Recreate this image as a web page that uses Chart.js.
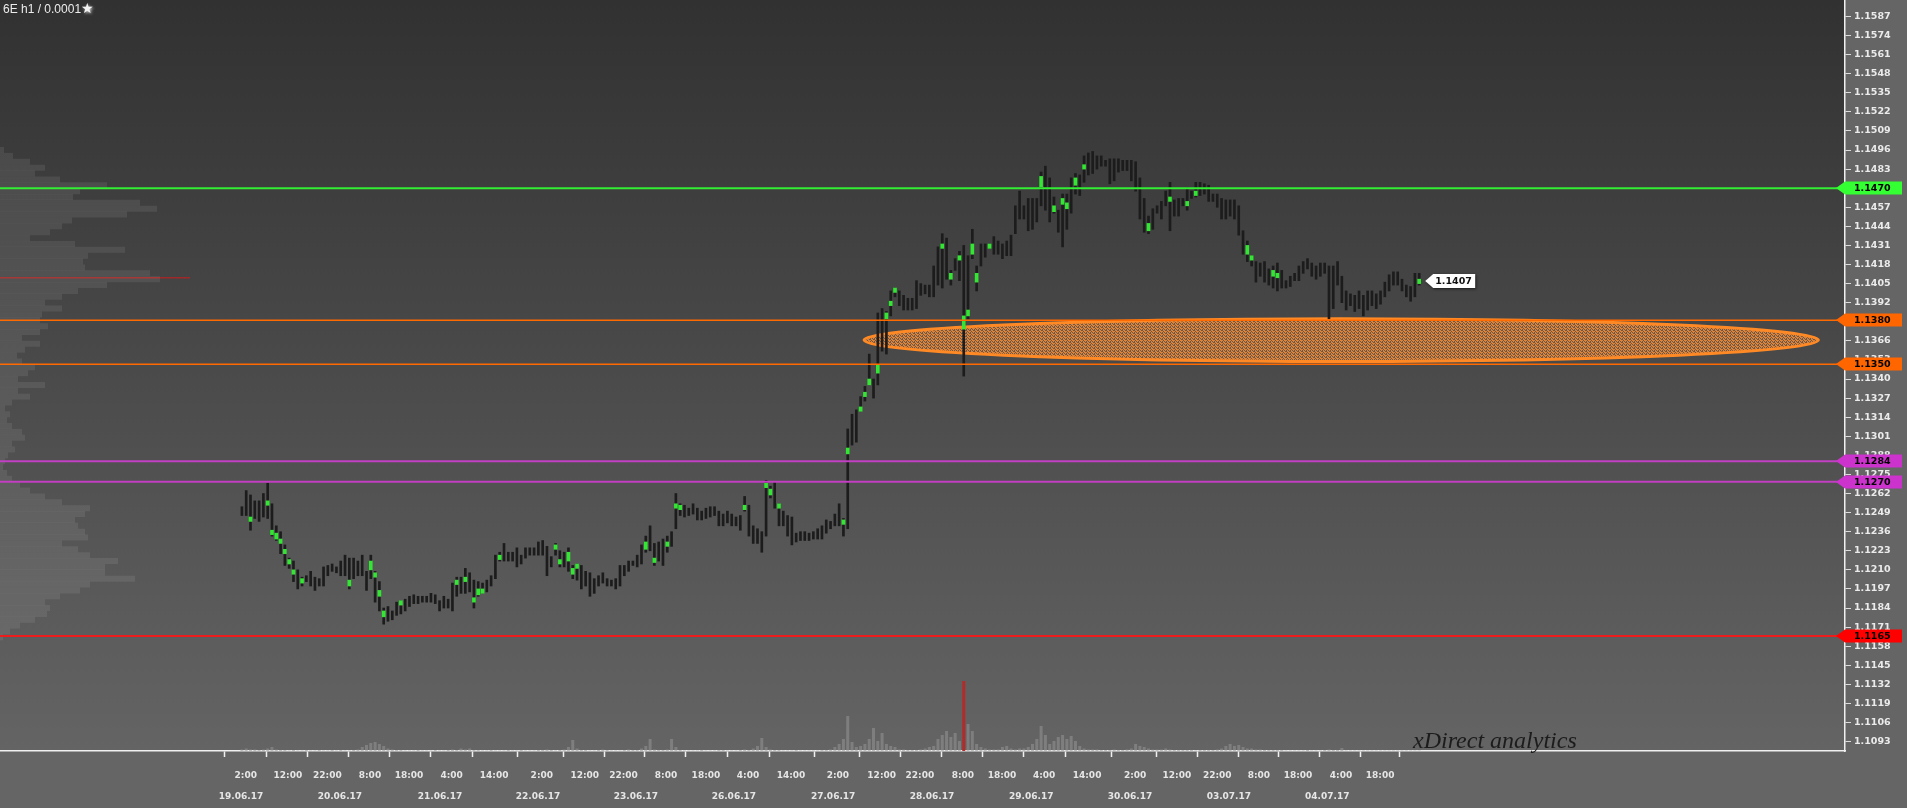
<!DOCTYPE html>
<html>
<head>
<meta charset="utf-8">
<title>6E h1</title>
<script src="https://cdn.jsdelivr.net/npm/chart.js@4.4.0/dist/chart.umd.min.js"></script>
<style>
  html, body { margin: 0; padding: 0; background: #656565; overflow: hidden; }
  #wrap { position: relative; width: 1907px; height: 808px; }
  #wrap canvas { position: absolute; left: 0; top: 0; }
</style>
</head>
<body>
<div id="wrap">
  <canvas id="profileChart" width="1907" height="808"></canvas>
  <canvas id="priceChart" width="1907" height="808"></canvas>
</div>
<script>
'use strict';

// hourly bars, 19.06.17 2:00 -> 04.07.17 (one entry per bar)
let barHigh = [
  1.1253, 1.1264, 1.1261, 1.1257, 1.1257, 1.1262, 1.1269, 1.1255, 1.1240, 1.1236,
  1.1227, 1.1218, 1.1216, 1.1210, 1.1205, 1.1206, 1.1209, 1.1205, 1.1204, 1.1212,
  1.1213, 1.1214, 1.1212, 1.1216, 1.1220, 1.1218, 1.1218, 1.1216, 1.1220, 1.1209,
  1.1220, 1.1209, 1.1202, 1.1184, 1.1185, 1.1182, 1.1188, 1.1189, 1.1190, 1.1192,
  1.1193, 1.1192, 1.1192, 1.1192, 1.1194, 1.1193, 1.1189, 1.1192, 1.1190, 1.1201,
  1.1205, 1.1205, 1.1211, 1.1208, 1.1203, 1.1202, 1.1201, 1.1203, 1.1206, 1.1220,
  1.1222, 1.1228, 1.1222, 1.1222, 1.1225, 1.1220, 1.1225, 1.1225, 1.1225, 1.1229,
  1.1230, 1.1226, 1.1219, 1.1228, 1.1223, 1.1222, 1.1225, 1.1213, 1.1214, 1.1213,
  1.1209, 1.1208, 1.1204, 1.1206, 1.1208, 1.1204, 1.1203, 1.1204, 1.1213, 1.1213,
  1.1216, 1.1216, 1.1220, 1.1227, 1.1233, 1.1240, 1.1228, 1.1229, 1.1231, 1.1233,
  1.1236, 1.1262, 1.1255, 1.1254, 1.1252, 1.1255, 1.1252, 1.1250, 1.1252, 1.1253,
  1.1253, 1.1250, 1.1248, 1.1250, 1.1248, 1.1246, 1.1247, 1.1260, 1.1254, 1.1240,
  1.1238, 1.1236, 1.1271, 1.1267, 1.1270, 1.1255, 1.1250, 1.1247, 1.1246, 1.1235,
  1.1236, 1.1236, 1.1235, 1.1236, 1.1238, 1.1240, 1.1244, 1.1243, 1.1248, 1.1255,
  1.1245, 1.1306, 1.1316, 1.1319, 1.1328, 1.1335, 1.1357, 1.1340, 1.1385, 1.1388,
  1.1386, 1.1400, 1.1402, 1.1400, 1.1397, 1.1395, 1.1395, 1.1407, 1.1405, 1.1404,
  1.1404, 1.1417, 1.1430, 1.1439, 1.1436, 1.1414, 1.1422, 1.1427, 1.1431, 1.1424,
  1.1442, 1.1417, 1.1432, 1.1432, 1.1432, 1.1437, 1.1434, 1.1432, 1.1434, 1.1438,
  1.1458, 1.1468, 1.1458, 1.1463, 1.1463, 1.1463, 1.1481, 1.1485, 1.1477, 1.1464,
  1.1455, 1.1466, 1.1466, 1.1477, 1.1480, 1.1479, 1.1492, 1.1494, 1.1495, 1.1492,
  1.1492, 1.1489, 1.1490, 1.1490, 1.1490, 1.1489, 1.1489, 1.1489, 1.1488, 1.1477,
  1.1463, 1.1451, 1.1456, 1.1458, 1.1461, 1.1468, 1.1474, 1.1462, 1.1463, 1.1463,
  1.1470, 1.1468, 1.1474, 1.1474, 1.1473, 1.1472, 1.1466, 1.1466, 1.1463, 1.1462,
  1.1462, 1.1462, 1.1458, 1.1441, 1.1434, 1.1424, 1.1420, 1.1419, 1.1420, 1.1415,
  1.1417, 1.1419, 1.1414, 1.1407, 1.1410, 1.1412, 1.1417, 1.1420, 1.1422, 1.1419,
  1.1417, 1.1419, 1.1419, 1.1417, 1.1417, 1.1420, 1.1410, 1.1400, 1.1398, 1.1397,
  1.1400, 1.1397, 1.1400, 1.1400, 1.1398, 1.1400, 1.1406, 1.1411, 1.1413, 1.1413,
  1.1408, 1.1404, 1.1403, 1.1412, 1.1412
];
let barLow = [
  1.1247, 1.1247, 1.1237, 1.1245, 1.1243, 1.1246, 1.1245, 1.1233, 1.1230, 1.1221,
  1.1213, 1.1211, 1.1202, 1.1197, 1.1199, 1.1202, 1.1199, 1.1196, 1.1199, 1.1199,
  1.1206, 1.1209, 1.1208, 1.1206, 1.1206, 1.1197, 1.1204, 1.1206, 1.1206, 1.1196,
  1.1204, 1.1188, 1.1182, 1.1173, 1.1175, 1.1176, 1.1179, 1.1180, 1.1182, 1.1185,
  1.1187, 1.1187, 1.1188, 1.1188, 1.1188, 1.1187, 1.1182, 1.1184, 1.1184, 1.1182,
  1.1192, 1.1194, 1.1194, 1.1195, 1.1184, 1.1192, 1.1194, 1.1195, 1.1199, 1.1204,
  1.1216, 1.1216, 1.1216, 1.1216, 1.1212, 1.1214, 1.1218, 1.1220, 1.1220, 1.1220,
  1.1220, 1.1206, 1.1212, 1.1220, 1.1212, 1.1212, 1.1209, 1.1204, 1.1203, 1.1197,
  1.1199, 1.1192, 1.1194, 1.1199, 1.1201, 1.1199, 1.1199, 1.1197, 1.1199, 1.1206,
  1.1209, 1.1213, 1.1212, 1.1214, 1.1222, 1.1223, 1.1213, 1.1216, 1.1213, 1.1222,
  1.1226, 1.1238, 1.1247, 1.1246, 1.1247, 1.1248, 1.1244, 1.1244, 1.1245, 1.1246,
  1.1247, 1.1240, 1.1240, 1.1242, 1.1240, 1.1240, 1.1237, 1.1250, 1.1233, 1.1228,
  1.1228, 1.1222, 1.1233, 1.1259, 1.1252, 1.1240, 1.1240, 1.1233, 1.1227, 1.1229,
  1.1230, 1.1230, 1.1230, 1.1231, 1.1231, 1.1231, 1.1235, 1.1238, 1.1240, 1.1240,
  1.1233, 1.1238, 1.1295, 1.1297, 1.1318, 1.1325, 1.1336, 1.1327, 1.1336, 1.1359,
  1.1357, 1.1383, 1.1396, 1.1390, 1.1387, 1.1387, 1.1387, 1.1388, 1.1397, 1.1398,
  1.1396, 1.1396, 1.1404, 1.1402, 1.1408, 1.1404, 1.1414, 1.1407, 1.1342, 1.1381,
  1.1422, 1.1400, 1.1417, 1.1423, 1.1429, 1.1425, 1.1425, 1.1422, 1.1424, 1.1424,
  1.1439, 1.1449, 1.1449, 1.1441, 1.1442, 1.1447, 1.1458, 1.1455, 1.1447, 1.1453,
  1.1440, 1.1430, 1.1442, 1.1453, 1.1466, 1.1465, 1.1474, 1.1479, 1.1480, 1.1483,
  1.1485, 1.1485, 1.1473, 1.1475, 1.1481, 1.1482, 1.1482, 1.1475, 1.1468, 1.1449,
  1.1440, 1.1439, 1.1442, 1.1453, 1.1449, 1.1458, 1.1441, 1.1451, 1.1451, 1.1458,
  1.1455, 1.1463, 1.1464, 1.1465, 1.1466, 1.1461, 1.1461, 1.1457, 1.1449, 1.1449,
  1.1451, 1.1449, 1.1438, 1.1425, 1.1420, 1.1417, 1.1406, 1.1410, 1.1406, 1.1404,
  1.1402, 1.1400, 1.1402, 1.1402, 1.1403, 1.1407, 1.1407, 1.1412, 1.1415, 1.1410,
  1.1408, 1.1410, 1.1412, 1.1381, 1.1388, 1.1404, 1.1392, 1.1387, 1.1390, 1.1386,
  1.1388, 1.1383, 1.1387, 1.1390, 1.1388, 1.1391, 1.1396, 1.1400, 1.1404, 1.1404,
  1.1400, 1.1396, 1.1393, 1.1396, 1.1404
];

// green volume clusters inside some bars
let clusterBar = [2, 6, 7, 8, 9, 10, 11, 12, 14, 25, 30, 31, 32, 33, 37, 50, 52, 54, 55, 56,
  60, 73, 74, 76, 77, 78, 94, 96, 99, 101, 102, 117, 122, 123, 125, 140, 141, 144, 145, 146,
  148, 150, 151, 152, 163, 165, 167, 168, 169, 170, 171, 174, 186, 189, 191, 192, 194, 196, 211, 216,
  220, 222, 234, 235, 240, 241, 274];
let clusterLow = [1.1243, 1.1254, 1.1234, 1.1231, 1.1228, 1.1221, 1.1214, 1.1207, 1.1201, 1.1199,
  1.1210, 1.1205, 1.1192, 1.1178, 1.1186, 1.1200, 1.1202, 1.1188, 1.1193, 1.1194,
  1.1217, 1.1224, 1.1214, 1.1216, 1.1207, 1.1211, 1.1224, 1.1215, 1.1226, 1.1252,
  1.1251, 1.1251, 1.1266, 1.1261, 1.1252, 1.1241, 1.1289, 1.1318, 1.1328, 1.1336,
  1.1344, 1.1381, 1.1390, 1.1399, 1.1429, 1.1408, 1.1421, 1.1374, 1.1383, 1.1425,
  1.1406, 1.1429, 1.1471, 1.1454, 1.1459, 1.1456, 1.1472, 1.1483, 1.1441, 1.1461,
  1.1458, 1.1465, 1.1425, 1.1421, 1.1410, 1.1409, 1.1405];
let clusterHigh = [1.1246, 1.1257, 1.1237, 1.1235, 1.1231, 1.1224, 1.1217, 1.1210, 1.1204, 1.1203,
  1.1216, 1.1208, 1.1196, 1.1182, 1.1189, 1.1203, 1.1205, 1.1191, 1.1197, 1.1197,
  1.1220, 1.1227, 1.1217, 1.1222, 1.1211, 1.1214, 1.1229, 1.1218, 1.1229, 1.1255,
  1.1254, 1.1254, 1.1269, 1.1265, 1.1255, 1.1244, 1.1293, 1.1321, 1.1331, 1.1340,
  1.1350, 1.1385, 1.1393, 1.1402, 1.1432, 1.1412, 1.1424, 1.1383, 1.1387, 1.1432,
  1.1412, 1.1432, 1.1478, 1.1458, 1.1463, 1.1460, 1.1477, 1.1486, 1.1446, 1.1464,
  1.1461, 1.1468, 1.1431, 1.1424, 1.1414, 1.1412, 1.1408];

// hourly volume, contracts
let barVolume = [
  150, 250, 150, 150, 100, 150, 250, 400, 150, 100,
  100, 50, 100, 50, 50, 100, 50, 50, 100, 50,
  50, 100, 50, 100, 50, 50, 100, 150, 400, 600,
  800, 900, 700, 500, 250, 150, 100, 100, 50, 50,
  50, 100, 50, 50, 50, 100, 50, 50, 100, 150,
  100, 250, 150, 250, 100, 100, 50, 50, 100, 50,
  50, 50, 100, 50, 50, 100, 50, 50, 50, 100,
  100, 150, 100, 50, 100, 150, 400, 1100, 250, 100,
  100, 50, 50, 100, 150, 100, 50, 50, 50, 100,
  150, 100, 100, 250, 500, 1200, 150, 100, 100, 150,
  1200, 400, 100, 50, 50, 50, 50, 100, 50, 50,
  50, 100, 100, 50, 50, 50, 100, 150, 100, 250,
  500, 1300, 400, 150, 100, 100, 50, 50, 50, 100,
  50, 50, 50, 50, 50, 100, 100, 150, 400, 700,
  1200, 3500, 900, 400, 500, 700, 1200, 2300, 1000, 1800,
  700, 500, 400, 150, 150, 100, 100, 100, 150, 250,
  400, 500, 1200, 1600, 2000, 1400, 1800, 1000, 7000, 2700,
  2000, 700, 400, 250, 150, 150, 150, 400, 500, 250,
  150, 250, 250, 400, 700, 1200, 2500, 1600, 700, 1000,
  1400, 1600, 1200, 1500, 1000, 500, 250, 150, 150, 150,
  100, 100, 100, 150, 100, 100, 150, 250, 700, 500,
  400, 250, 150, 150, 150, 250, 150, 100, 100, 100,
  100, 100, 50, 100, 100, 100, 100, 150, 250, 500,
  700, 500, 600, 400, 250, 250, 150, 150, 100, 100,
  100, 100, 100, 50, 50, 50, 50, 50, 100, 50,
  50, 50, 100, 150, 100, 100, 300, 50, 50, 50,
  50, 50, 50, 50, 50, 50, 50, 50, 50, 50,
  50, 50, 50, 50, 50
];
let volumeMax = 75100;

// volume profile on the left (price rows, 0.0004 apart)
let profilePrice = [
  1.1496, 1.1492, 1.1488, 1.1484, 1.1480, 1.1476, 1.1472, 1.1468, 1.1464, 1.1460,
  1.1456, 1.1452, 1.1448, 1.1444, 1.1440, 1.1436, 1.1432, 1.1428, 1.1424, 1.1420,
  1.1416, 1.1412, 1.1408, 1.1404, 1.1400, 1.1396, 1.1392, 1.1388, 1.1384, 1.1380,
  1.1376, 1.1372, 1.1368, 1.1364, 1.1360, 1.1356, 1.1352, 1.1348, 1.1344, 1.1340,
  1.1336, 1.1332, 1.1328, 1.1324, 1.1320, 1.1316, 1.1312, 1.1308, 1.1304, 1.1300,
  1.1296, 1.1292, 1.1288, 1.1284, 1.1280, 1.1276, 1.1272, 1.1268, 1.1264, 1.1260,
  1.1256, 1.1252, 1.1248, 1.1244, 1.1240, 1.1236, 1.1232, 1.1228, 1.1224, 1.1220,
  1.1216, 1.1212, 1.1208, 1.1204, 1.1200, 1.1196, 1.1192, 1.1188, 1.1184, 1.1180,
  1.1176, 1.1172, 1.1168, 1.1164
];
let profileVolume = [
  4, 13, 30, 45, 35, 60, 107, 80, 73, 140,
  157, 127, 72, 62, 50, 30, 75, 125, 88, 83,
  85, 150, 160, 107, 78, 62, 45, 62, 42, 40,
  48, 40, 22, 40, 25, 17, 22, 35, 28, 18,
  45, 18, 30, 12, 5, 10, 7, 12, 22, 25,
  12, 15, 8, 5, 3, 7, 12, 20, 30, 45,
  62, 90, 85, 75, 78, 85, 88, 62, 78, 90,
  118, 105, 105, 135, 90, 80, 60, 45, 50, 47,
  35, 20, 10, 3
];
let profileScaleMax = 1845;
let pocPrice = 1.1409;
let pocVolume = 190;

// price axis
let yMin = 1.10866;
let yMax = 1.15982;
let yTickValues = [
  1.1587, 1.1574, 1.1561, 1.1548, 1.1535, 1.1522, 1.1509, 1.1496, 1.1483, 1.1470,
  1.1457, 1.1444, 1.1431, 1.1418, 1.1405, 1.1392, 1.1379, 1.1366, 1.1353, 1.1340,
  1.1327, 1.1314, 1.1301, 1.1288, 1.1275, 1.1262, 1.1249, 1.1236, 1.1223, 1.1210,
  1.1197, 1.1184, 1.1171, 1.1158, 1.1145, 1.1132, 1.1119, 1.1106, 1.1093
];

// bar axis (bar number)
let xMin = -56.3;
let xMax = 373.1;
let timeTickPos = [0.9, 10.7, 19.9, 29.8, 38.9, 48.8, 58.7, 69.8, 79.8, 88.8,
  98.7, 108, 117.8, 127.8, 138.7, 148.9, 157.8, 167.8, 176.9, 186.7,
  196.7, 207.9, 217.6, 227, 236.7, 245.8, 255.8, 264.9];
let timeTickLabels = ['2:00', '12:00', '22:00', '8:00', '18:00', '4:00', '14:00', '2:00', '12:00', '22:00',
  '8:00', '18:00', '4:00', '14:00', '2:00', '12:00', '22:00', '8:00', '18:00', '4:00',
  '14:00', '2:00', '12:00', '22:00', '8:00', '18:00', '4:00', '18:00'];
let dateTickPos = [-0.2, 22.8, 46.1, 68.9, 91.7, 114.5, 137.6, 160.6, 183.7, 206.7, 229.7, 252.6];
let dateTickLabels = ['19.06.17', '20.06.17', '21.06.17', '22.06.17', '23.06.17', '26.06.17',
  '27.06.17', '28.06.17', '29.06.17', '30.06.17', '03.07.17', '04.07.17'];

// horizontal levels
let levelPrice = [1.1470, 1.1380, 1.1350, 1.1284, 1.1270, 1.1165];
let levelColor = ['#33ee33', '#ff6a00', '#ff6a00', '#c23ec2', '#c23ec2', '#ee1c1c'];
let levelTagColor = ['#33ff33', '#ff6600', '#ff6600', '#cc33cc', '#cc33cc', '#ff0000'];

// orange zone (ellipse)
let zoneFrom = 144.8;
let zoneTo = 366.9;
let zoneHigh = 1.1381;
let zoneLow = 1.1352;

let lastPrice = 1.1407;

Chart.defaults.font.family = 'DejaVu Sans';

let labelFont = { family: 'DejaVu Sans', size: 9.5, weight: 'bold' };
let smallFont = { family: 'DejaVu Sans', size: 9, weight: 'bold' };

let backgroundPlugin = {
  id: 'background',
  beforeDraw(chart) {
    let ctx = chart.ctx;
    let area = chart.chartArea;
    ctx.save();
    ctx.fillStyle = '#656565';
    ctx.fillRect(0, 0, chart.width, chart.height);
    let g = ctx.createLinearGradient(0, area.top, 0, area.bottom);
    g.addColorStop(0, '#313131');
    g.addColorStop(1, '#646464');
    ctx.fillStyle = g;
    ctx.fillRect(area.left, area.top, area.right - area.left, area.bottom - area.top);
    ctx.restore();
  }
};

function makeZonePattern(ctx) {
  let c = document.createElement('canvas');
  c.width = 4;
  c.height = 3;
  let p = c.getContext('2d');
  p.fillStyle = '#ee8733';
  p.fillRect(0, 0, 4, 3);
  p.fillStyle = '#6a5c52';
  p.fillRect(1, 0, 1, 1);
  p.fillRect(3, 1, 1, 1);
  p.fillRect(0, 2, 1, 1);
  p.fillRect(2, 2, 1, 1);
  p.fillRect(2, 0, 1, 1);
  return ctx.createPattern(c, 'repeat');
}

let decorPlugin = {
  id: 'decor',
  beforeDatasetsDraw(chart) {
    let ctx = chart.ctx;
    let x = chart.scales.x;
    let y = chart.scales.y;
    let x1 = x.getPixelForValue(zoneFrom);
    let x2 = x.getPixelForValue(zoneTo);
    let y1 = y.getPixelForValue(zoneHigh);
    let y2 = y.getPixelForValue(zoneLow);
    ctx.save();
    ctx.beginPath();
    ctx.ellipse((x1 + x2) / 2, (y1 + y2) / 2, (x2 - x1) / 2, (y2 - y1) / 2, 0, 0, Math.PI * 2);
    ctx.globalAlpha = 0.92;
    ctx.fillStyle = makeZonePattern(ctx);
    ctx.fill();
    ctx.globalAlpha = 1;
    ctx.lineWidth = 3;
    ctx.strokeStyle = '#ff8a25';
    ctx.stroke();
    ctx.restore();
  },
  afterDraw(chart) {
    let ctx = chart.ctx;
    let area = chart.chartArea;
    let x = chart.scales.x;
    let y = chart.scales.y;
    ctx.save();

    // level tags on the price axis
    ctx.font = 'bold 9.5px "DejaVu Sans"';
    ctx.textBaseline = 'middle';
    for (let i = 0; i < levelPrice.length; i++) {
      let py = Math.round(y.getPixelForValue(levelPrice[i]));
      ctx.fillStyle = levelTagColor[i];
      ctx.beginPath();
      ctx.moveTo(area.right - 9, py);
      ctx.lineTo(area.right, py - 6.5);
      ctx.lineTo(area.right + 57, py - 6.5);
      ctx.lineTo(area.right + 57, py + 6.5);
      ctx.lineTo(area.right, py + 6.5);
      ctx.closePath();
      ctx.fill();
      ctx.fillStyle = '#000';
      ctx.textAlign = 'left';
      ctx.fillText(levelPrice[i].toFixed(4), area.right + 9, py + 0.5);
    }

    // last price tag
    let lx = x.getPixelForValue(barHigh.length - 1) + 6;
    let ly = Math.round(y.getPixelForValue(lastPrice));
    ctx.shadowColor = 'rgba(0,0,0,0.6)';
    ctx.shadowBlur = 3;
    ctx.shadowOffsetX = 1;
    ctx.shadowOffsetY = 1;
    ctx.fillStyle = '#ffffff';
    ctx.beginPath();
    ctx.moveTo(lx, ly);
    ctx.lineTo(lx + 8, ly - 7);
    ctx.lineTo(lx + 50, ly - 7);
    ctx.lineTo(lx + 50, ly + 7);
    ctx.lineTo(lx + 8, ly + 7);
    ctx.closePath();
    ctx.fill();
    ctx.shadowColor = 'transparent';
    ctx.fillStyle = '#111';
    ctx.fillText(lastPrice.toFixed(4), lx + 10, ly + 0.5);

    // title
    ctx.font = '12px "Liberation Sans"';
    ctx.fillStyle = '#ececec';
    ctx.fillText('6E h1 / 0.0001', area.left + 3, 10);
    let tw = ctx.measureText('6E h1 / 0.0001').width;
    ctx.font = '14px "DejaVu Sans"';
    ctx.shadowColor = 'rgba(255,255,255,0.8)';
    ctx.shadowBlur = 3;
    ctx.fillStyle = '#f4f4f4';
    ctx.fillText('★', area.left + 3 + tw, 9);
    ctx.shadowColor = 'transparent';

    // watermark
    ctx.font = 'italic 24px "Liberation Serif"';
    ctx.fillStyle = '#1c1c1c';
    ctx.fillText('xDirect analytics', area.right - 432, area.bottom - 9);
    ctx.restore();
  }
};

// left volume profile, drawn behind the price chart
let profileRows = [];
for (let i = 0; i < profilePrice.length; i++) {
  profileRows.push({ x: profileVolume[i], y: profilePrice[i] });
}

new Chart(document.getElementById('profileChart'), {
  type: 'bar',
  data: {
    datasets: [{
      data: profileRows,
      backgroundColor: 'rgba(255, 255, 255, 0.08)',
      barThickness: 6,
      inflateAmount: 0,
      grouped: false
    },
    {
      data: [{ x: pocVolume, y: pocPrice }],
      backgroundColor: 'rgba(175, 35, 35, 0.85)',
      barThickness: 1.5,
      inflateAmount: 0,
      grouped: false
    }]
  },
  options: {
    indexAxis: 'y',
    responsive: false,
    animation: false,
    devicePixelRatio: 1,
    layout: { padding: { left: 0, top: 0, right: 62, bottom: 57 } },
    plugins: { legend: { display: false }, tooltip: { enabled: false } },
    scales: {
      x: { type: 'linear', display: false, offset: false, min: 0, max: profileScaleMax },
      y: { type: 'linear', display: false, offset: false, min: yMin, max: yMax }
    }
  },
  plugins: [backgroundPlugin]
});

// price chart
let rangeData = [];
let volumeData = [];
for (let i = 0; i < barHigh.length; i++) {
  rangeData.push({ x: i, y: [barLow[i], barHigh[i]] });
  volumeData.push({ x: i, y: barVolume[i] });
}
let clusterData = [];
for (let i = 0; i < clusterBar.length; i++) {
  clusterData.push({ x: clusterBar[i], y: [clusterLow[i], clusterHigh[i]] });
}
let maxVolume = Math.max(...barVolume);

let datasets = [];
for (let i = 0; i < levelPrice.length; i++) {
  datasets.push({
    type: 'line',
    data: [{ x: xMin, y: levelPrice[i] }, { x: xMax, y: levelPrice[i] }],
    borderColor: levelColor[i],
    borderWidth: levelColor[i] === '#ff6a00' ? 1.5 : 2,
    pointRadius: 0,
    order: 0
  });
}
datasets.push({
  data: clusterData,
  backgroundColor: '#33e633',
  barThickness: 3,
  grouped: false,
  order: 1
});
datasets.push({
  data: rangeData,
  backgroundColor: '#1c1c1c',
  barThickness: 2,
  grouped: false,
  order: 2
});
datasets.push({
  data: volumeData,
  yAxisID: 'yVol',
  backgroundColor: ctx => (ctx.raw && ctx.raw.y === maxVolume ? '#b32a2a' : 'rgba(150, 150, 150, 0.55)'),
  barThickness: 3,
  inflateAmount: 0,
  grouped: false,
  order: 3
});

new Chart(document.getElementById('priceChart'), {
  type: 'bar',
  data: { datasets: datasets },
  options: {
    responsive: false,
    animation: false,
    devicePixelRatio: 1,
    layout: { padding: 0 },
    plugins: { legend: { display: false }, tooltip: { enabled: false } },
    scales: {
      x: {
        type: 'linear',
        position: 'bottom',
        weight: 0,
        min: xMin,
        max: xMax,
        offset: false,
        grid: { drawOnChartArea: false, drawTicks: true, tickLength: 6, tickColor: '#f0f0f0', tickWidth: 1.5 },
        border: { color: '#f0f0f0', width: 1.5 },
        ticks: {
          autoSkip: false,
          maxRotation: 0,
          padding: 13,
          color: '#e6e6e6',
          font: smallFont,
          callback: (value, index) => timeTickLabels[index]
        },
        afterBuildTicks: axis => { axis.ticks = timeTickPos.map(v => ({ value: v })); },
        afterFit: axis => { axis.height = 28; axis.paddingLeft = 0; axis.paddingRight = 0; }
      },
      xDate: {
        type: 'linear',
        axis: 'x',
        position: 'bottom',
        weight: 1,
        min: xMin,
        max: xMax,
        offset: false,
        grid: { display: false },
        border: { display: false },
        ticks: {
          autoSkip: false,
          maxRotation: 0,
          padding: 4,
          color: '#e6e6e6',
          font: smallFont,
          callback: (value, index) => dateTickLabels[index]
        },
        afterBuildTicks: axis => { axis.ticks = dateTickPos.map(v => ({ value: v })); },
        afterFit: axis => { axis.height = 29; axis.paddingLeft = 0; axis.paddingRight = 0; }
      },
      y: {
        type: 'linear',
        position: 'right',
        min: yMin,
        max: yMax,
        grid: { drawOnChartArea: false, drawTicks: true, tickLength: 6, tickColor: '#dcdcdc' },
        border: { color: '#f0f0f0', width: 1.5 },
        ticks: {
          autoSkip: false,
          padding: 3,
          color: '#ebebeb',
          font: labelFont,
          callback: value => value.toFixed(4)
        },
        afterBuildTicks: axis => { axis.ticks = yTickValues.map(v => ({ value: v })); },
        afterFit: axis => { axis.width = 62; axis.paddingTop = 0; axis.paddingBottom = 0; }
      },
      yVol: {
        type: 'linear',
        display: false,
        min: 0,
        max: volumeMax
      }
    }
  },
  plugins: [decorPlugin]
});
</script>
</body>
</html>
